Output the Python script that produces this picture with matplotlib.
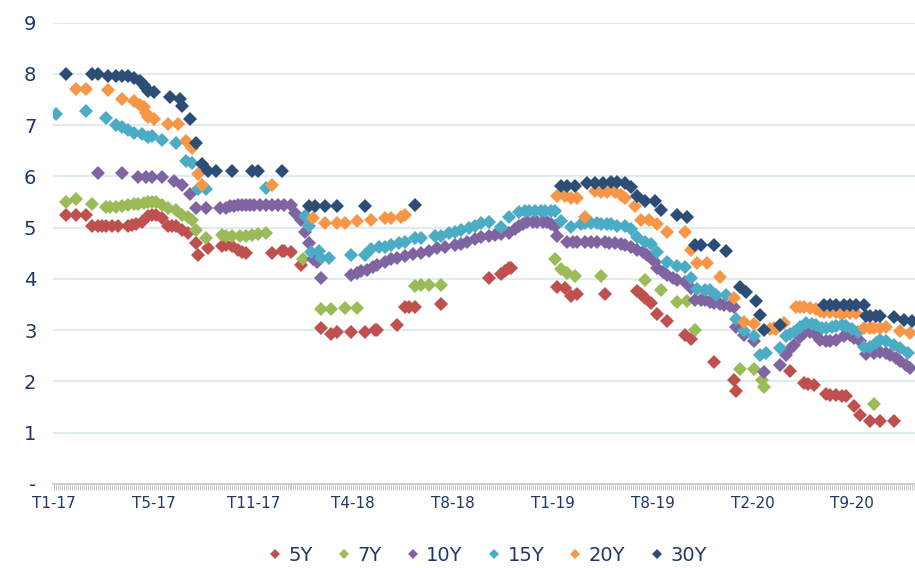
import numpy as np
import matplotlib.pyplot as plt
from matplotlib.lines import Line2D

# category axis: one slot per auction date, label every 50 slots
n_cat = 432
tick_labels = ["T1-17", "T5-17", "T11-17", "T4-18", "T8-18",
               "T1-19", "T8-19", "T2-20", "T9-20"]

# (category index, yield %) per tenor
y5_idx = [6, 11, 16, 19, 22, 24, 26, 29, 32, 37, 39, 41, 44, 47, 49, 51, 54, 57, 59, 61, 64, 67, 71, 72, 77,
          84, 86, 89, 92, 94, 96, 109, 114, 115, 119, 124, 134, 139, 142, 149, 156, 161, 162, 172, 176, 178,
          181, 194, 218, 224, 226, 228, 229, 252, 256, 259, 262, 276, 292, 294, 296, 299, 302, 307, 316,
          319, 331, 341, 342, 369, 376, 378, 381, 387, 389, 392, 395, 397, 401, 404, 409, 414, 421]
y5_val = [5.25, 5.25, 5.25, 5.03, 5.03, 5.03, 5.03, 5.03, 5.03, 5.03, 5.05, 5.08, 5.12, 5.22, 5.24, 5.25,
          5.19, 5.03, 5.03, 5.03, 4.96, 4.90, 4.70, 4.47, 4.60, 4.65, 4.66, 4.65, 4.57, 4.53, 4.51, 4.51,
          4.54, 4.54, 4.52, 4.28, 3.05, 2.92, 2.97, 2.97, 2.97, 3.01, 3.01, 3.11, 3.46, 3.46, 3.46, 3.51, 4.01,
          4.10, 4.16, 4.21, 4.21, 3.84, 3.83, 3.66, 3.71, 3.71, 3.76, 3.70, 3.63, 3.54, 3.31, 3.17, 2.91,
          2.83, 2.38, 2.03, 1.82, 2.21, 1.97, 1.95, 1.93, 1.75, 1.74, 1.73, 1.72, 1.71, 1.52, 1.35, 1.22,
          1.22, 1.22]

y7_idx = [6, 11, 19, 26, 28, 31, 34, 37, 40, 42, 45, 47, 49, 51, 54, 57, 61, 64, 67, 69, 71, 76, 84, 86, 89,
          93, 96, 99, 102, 106, 125, 134, 139, 146, 152, 181, 184, 188, 194, 251, 254, 257, 261, 274, 296,
          304, 312, 317, 321, 344, 351, 355, 356, 411]
y7_val = [5.51, 5.56, 5.47, 5.40, 5.40, 5.40, 5.42, 5.45, 5.46, 5.47, 5.49, 5.51, 5.51, 5.51, 5.45, 5.38, 5.35,
          5.25, 5.21, 5.16, 4.96, 4.80, 4.86, 4.84, 4.83, 4.83, 4.83, 4.85, 4.88, 4.90, 4.38, 3.42, 3.42,
          3.43, 3.43, 3.87, 3.89, 3.89, 3.89, 4.38, 4.20, 4.12, 4.06, 4.06, 3.97, 3.78, 3.55, 3.56, 3.01,
          2.24, 2.24, 2.03, 1.90, 1.56]

y10_idx = [22, 34, 42, 46, 49, 54, 60, 64, 68, 71, 76, 83, 86, 88, 90, 92, 94, 96, 98, 100, 103, 106, 109,
           112, 115, 119, 121, 124, 126, 128, 130, 132, 134, 149, 152, 154, 157, 160, 162, 166, 169, 172,
           176, 180, 184, 188, 192, 196, 201, 204, 207, 211, 214, 218, 221, 224, 228, 231, 233, 235, 237,
           240, 242, 245, 247, 249, 251, 252, 257, 260, 262, 266, 269, 272, 276, 278, 281, 284, 286, 289,
           292, 295, 297, 299, 301, 302, 305, 307, 310, 312, 316, 319, 321, 324, 326, 329, 331, 334, 336,
           339, 341, 342, 346, 351, 356, 364, 367, 369, 371, 374, 376, 379, 382, 384, 387, 389, 392, 396,
           399, 401, 404, 407, 411, 414, 417, 419, 422, 424, 427, 429]
y10_val = [6.07, 6.07, 5.99, 5.99, 5.99, 5.98, 5.92, 5.84, 5.66, 5.38, 5.38, 5.38, 5.38, 5.42, 5.43, 5.44,
           5.45, 5.45, 5.45, 5.45, 5.45, 5.45, 5.45, 5.45, 5.45, 5.45, 5.29, 5.16, 4.91, 4.71, 4.38, 4.34,
           4.02, 4.08, 4.12, 4.15, 4.18, 4.24, 4.28, 4.33, 4.38, 4.41, 4.44, 4.48, 4.51, 4.55, 4.60, 4.63,
           4.67, 4.69, 4.72, 4.77, 4.81, 4.84, 4.86, 4.88, 4.90, 4.97, 5.03, 5.08, 5.12, 5.12, 5.12, 5.12,
           5.12, 5.08, 5.03, 4.84, 4.72, 4.72, 4.72, 4.72, 4.72, 4.72, 4.72, 4.71, 4.70, 4.68, 4.67, 4.63,
           4.57, 4.52, 4.47, 4.40, 4.34, 4.22, 4.14, 4.07, 4.02, 3.98, 3.95, 3.82, 3.58, 3.58, 3.58, 3.55,
           3.53, 3.51, 3.50, 3.47, 3.45, 3.07, 2.91, 2.78, 2.19, 2.32, 2.52, 2.63, 2.71, 2.86, 2.94, 2.97,
           2.90, 2.81, 2.79, 2.78, 2.80, 2.88, 2.91, 2.85, 2.78, 2.54, 2.56, 2.58, 2.55, 2.52, 2.45, 2.39,
           2.32, 2.26]

y15_idx = [1, 16, 26, 31, 34, 37, 40, 44, 47, 49, 54, 61, 66, 69, 72, 76, 106, 126, 128, 129, 133, 134, 138,
           149, 156, 159, 163, 166, 169, 173, 176, 181, 184, 191, 194, 198, 201, 204, 208, 211, 214, 218,
           224, 228, 233, 236, 238, 241, 244, 246, 249, 251, 254, 259, 264, 266, 269, 272, 274, 277, 279,
           282, 286, 289, 292, 296, 299, 302, 307, 312, 316, 319, 322, 326, 329, 332, 337, 342, 346, 351,
           354, 357, 364, 367, 369, 371, 374, 377, 380, 382, 385, 387, 390, 392, 395, 397, 400, 403, 406,
           409, 412, 414, 417, 421, 424, 428]
y15_val = [7.21, 7.27, 7.14, 7.01, 6.96, 6.90, 6.85, 6.83, 6.77, 6.78, 6.72, 6.65, 6.31, 6.26, 5.76, 5.76,
           5.78, 5.23, 5.04, 4.52, 4.54, 4.41, 4.41, 4.46, 4.46, 4.59, 4.63, 4.63, 4.67, 4.70, 4.73, 4.79,
           4.80, 4.83, 4.83, 4.90, 4.92, 4.95, 4.99, 5.04, 5.09, 5.12, 5.01, 5.21, 5.31, 5.32, 5.32, 5.32,
           5.32, 5.32, 5.32, 5.32, 5.14, 5.01, 5.08, 5.09, 5.09, 5.09, 5.08, 5.08, 5.08, 5.04, 5.03, 4.97,
           4.82, 4.72, 4.68, 4.53, 4.33, 4.26, 4.24, 4.02, 3.80, 3.79, 3.78, 3.69, 3.69, 3.22, 2.99, 2.88,
           2.52, 2.55, 2.65, 2.88, 2.93, 2.97, 3.07, 3.15, 3.13, 3.11, 3.05, 3.04, 3.06, 3.08, 3.10, 3.08,
           3.02, 2.97, 2.68, 2.68, 2.75, 2.81, 2.79, 2.71, 2.65, 2.55]

y20_idx = [11, 16, 27, 34, 40, 43, 45, 46, 47, 50, 57, 62, 66, 69, 72, 74, 109, 130, 136, 142, 146, 152,
           159, 166, 169, 174, 176, 252, 256, 259, 262, 266, 271, 274, 277, 281, 284, 286, 291, 294, 298,
           302, 307, 316, 319, 322, 327, 334, 341, 346, 351, 359, 361, 362, 366, 372, 374, 376, 379, 382,
           384, 386, 389, 392, 394, 396, 399, 402, 406, 409, 411, 414, 417, 424, 429]
y20_val = [7.71, 7.71, 7.68, 7.52, 7.48, 7.40, 7.36, 7.23, 7.16, 7.12, 7.03, 7.03, 6.69, 6.56, 6.05, 5.84,
           5.84, 5.19, 5.10, 5.10, 5.10, 5.14, 5.16, 5.18, 5.18, 5.20, 5.25, 5.61, 5.61, 5.58, 5.57, 5.21,
           5.71, 5.70, 5.70, 5.70, 5.64, 5.58, 5.42, 5.16, 5.16, 5.07, 4.91, 4.91, 4.57, 4.32, 4.32, 4.03,
           3.63, 3.16, 3.13, 3.02, 3.04, 3.02, 3.14, 3.45, 3.45, 3.45, 3.43, 3.42, 3.38, 3.35, 3.35, 3.35,
           3.34, 3.33, 3.33, 3.33, 3.05, 3.05, 3.05, 3.05, 3.07, 2.99, 2.94]

y30_idx = [6, 19, 22, 27, 31, 34, 37, 40, 43, 45, 46, 47, 50, 58, 63, 64, 68, 71, 74, 77, 81, 89, 99, 102,
           114, 128, 131, 136, 142, 156, 181, 254, 257, 261, 267, 271, 275, 279, 282, 286, 289, 292, 296,
           301, 304, 312, 317, 321, 324, 331, 337, 344, 347, 352, 354, 356, 364, 386, 389, 392, 396, 399,
           402, 406, 407, 409, 412, 414, 421, 426, 430]
y30_val = [7.99, 7.99, 8.00, 7.97, 7.97, 7.97, 7.96, 7.92, 7.86, 7.79, 7.73, 7.66, 7.64, 7.56, 7.52, 7.37,
           7.12, 6.65, 6.25, 6.10, 6.10, 6.10, 6.10, 6.10, 6.10, 5.43, 5.43, 5.43, 5.43, 5.42, 5.45, 5.82,
           5.82, 5.82, 5.87, 5.87, 5.87, 5.90, 5.90, 5.87, 5.79, 5.61, 5.53, 5.53, 5.35, 5.24, 5.20, 4.67,
           4.67, 4.66, 4.55, 3.84, 3.74, 3.56, 3.29, 3.01, 3.11, 3.50, 3.50, 3.50, 3.50, 3.50, 3.50, 3.50,
           3.27, 3.27, 3.27, 3.27, 3.26, 3.19, 3.18]

series = [
    ("5Y", y5_idx, y5_val, "#C0504D"),
    ("7Y", y7_idx, y7_val, "#9BBB59"),
    ("10Y", y10_idx, y10_val, "#8064A2"),
    ("15Y", y15_idx, y15_val, "#4BACC6"),
    ("20Y", y20_idx, y20_val, "#F79646"),
    ("30Y", y30_idx, y30_val, "#2C4D75"),
]

text_col = "#1F3864"

fig = plt.figure(figsize=(9.15, 5.68), dpi=100)
ax = fig.add_axes([0.058, 0.148, 0.942, 0.812])

for name, idx, val, col in series:
    ax.plot(idx, val, linestyle="none", marker="D", markersize=7.2,
            color=col, markeredgewidth=0, label=name)

ax.set_xlim(-0.5, n_cat - 0.5)
ax.set_ylim(0, 9)

# y axis
ax.set_yticks(range(10))
ax.set_yticklabels(["-"] + [str(i) for i in range(1, 10)])
ax.yaxis.grid(True, color="#DCE9F1", linewidth=1.3)
ax.set_axisbelow(True)
ax.tick_params(axis="y", length=0, pad=12, labelsize=14, labelcolor=text_col)

# x axis: a tick for every category, label every 50
ax.set_xticks(np.arange(0, len(tick_labels) * 50, 50))
ax.set_xticklabels(tick_labels)
ax.set_xticks(np.arange(n_cat), minor=True)
ax.tick_params(axis="x", which="both", length=4, width=0.6, color="#BFBFBF",
               labelsize=11, labelcolor=text_col, pad=5)

for s in ["top", "right", "left"]:
    ax.spines[s].set_visible(False)
ax.spines["bottom"].set_color("#C8C8C8")
ax.spines["bottom"].set_linewidth(1.2)

handles = [Line2D([], [], linestyle="none", marker="D", markersize=5.5,
                  color=col, markeredgewidth=0) for _, _, _, col in series]
fig.legend(handles, [s[0] for s in series], loc="center", ncol=6,
           bbox_to_anchor=(0.532, 0.022), frameon=False, fontsize=14,
           labelcolor=text_col, handletextpad=0.3, columnspacing=1.2,
           handlelength=0.8)

fig.savefig("out.png", dpi=100)
